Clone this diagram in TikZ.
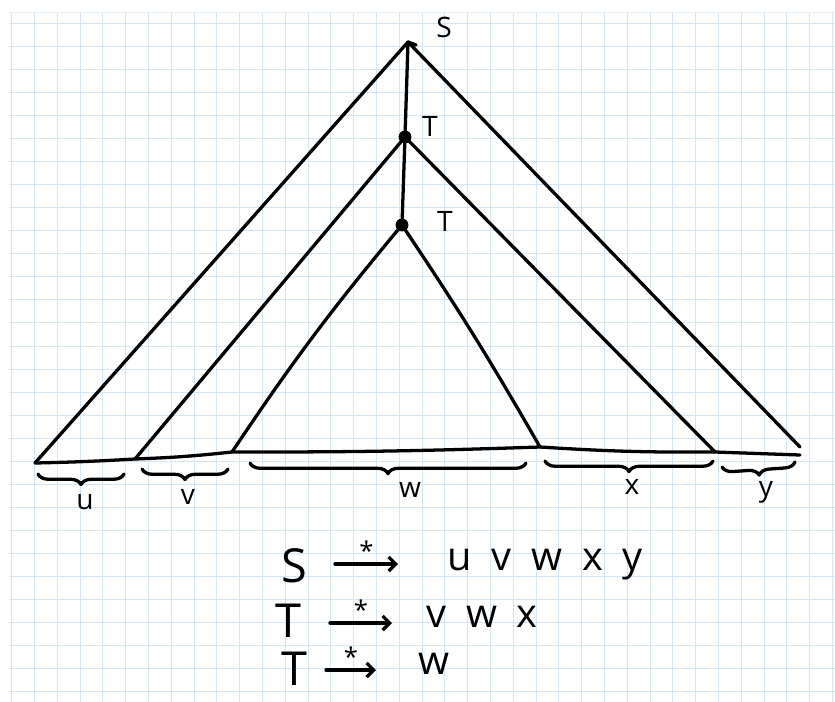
\documentclass[tikz,border=0pt]{standalone}
\usepackage{fontspec}
\setmainfont{Open Sans}
\usepackage{tikz}
\usetikzlibrary{decorations.pathreplacing,arrows.meta}
\definecolor{gridblue}{RGB}{212,229,244}

\begin{document}
\begin{tikzpicture}[
    x=0.03cm, y=-0.03cm,
    ink/.style={line width=2.8pt, line cap=round, line join=round, black},
    dot/.style={circle, fill=black, inner sep=0pt, minimum size=11pt},
    lab/.style={font=\fontsize{24}{28}\selectfont, inner sep=1pt},
    sym/.style={font=\fontsize{40}{46}\selectfont, inner sep=1pt},
    word/.style={font=\fontsize{34}{40}\selectfont\addfontfeature{LetterSpace=50}, inner sep=1pt},
    star/.style={font=\fontsize{22}{24}\selectfont, inner sep=0pt},
    cb/.style={ink, decorate, decoration={brace, mirror, amplitude=9pt}},
    derives/.style={ink, -{Straight Barb[length=6pt, width=12pt]}}
]
\useasboundingbox (0,0) rectangle (835,702);
% squared paper
\foreach \k in {0,...,36}
  \draw[gridblue, line width=0.8pt] ({11.7+22.8*\k},12) -- ({11.7+22.8*\k},702);
\foreach \k in {0,...,29}
  \draw[gridblue, line width=0.8pt] (9,{23.3+23.05*\k}) -- (835,{23.3+23.05*\k});
\draw[gridblue!60, line width=0.6pt] (9,12) -- (835,12);

% tree
\coordinate (s)  at (408,42);
\node[dot] (t1) at (405,137) {};
\node[dot] (t2) at (402,225) {};
\coordinate (lu) at (35,463);
\coordinate (lv) at (135,459);
\coordinate (lw) at (232,452);
\coordinate (rw) at (540,447);
\coordinate (rx) at (715,452);
\coordinate (ry) at (800,455);

\node[lab] (sl)  at (444,27)  {S};
\node[lab] (tl1) at (430,126) {T};
\node[lab] (tl2) at (445,221) {T};

\draw[ink] (lu) to[bend right=1] (lv) to[bend right=2] (lw)
  to[bend right=1] (rw) to[bend right=2] (rx) -- (ry);
\draw[ink] (s) -- (t1.center) -- (t2.center);
\draw[ink] (s) -- (lu);
\draw[ink] (s) -- (800,447);
\draw[ink] (t1.center) -- (lv);
\draw[ink] (t1.center) -- (rx);
\draw[ink] (t2.center) to[bend right=3] (lw);
\draw[ink] (t2.center) to[bend left=2] (rw);
\draw[ink] (s) -- ++(8,3);

% yield
\draw[cb] (38,474) -- (124,474);
\draw[cb] (142,469) -- (228,469);
\draw[cb] (250,463) -- (526,463);
\draw[cb] (545,461) -- (713,461);
\draw[cb] (722,467) -- (795,462);
\node[lab] (u) at (85,502)  {u};
\node[lab] (v) at (188,497) {v};
\node[lab] (w) at (410,490) {w};
\node[lab] (x) at (632,487) {x};
\node[lab] (y) at (766,492) {y};

% derivations
\node[sym]  (e1l) at (294,566) {S};
\node[word] (e1r) at (545,565) {uvwxy};
\node[sym]  (e2l) at (288,621) {T};
\node[word] (e2r) at (482,617) {vwx};
\node[sym]  (e3l) at (294,669) {T};
\node[word] (e3r) at (434,664) {w};
\draw[derives] (335,564) -- node[star, above=2pt] {*} (398,564);
\draw[derives] (330,623) -- node[star, above=2pt] {*} (392,623);
\draw[derives] (326,670) -- node[star, above=2pt] {*} (376,670);
\end{tikzpicture}
\end{document}
